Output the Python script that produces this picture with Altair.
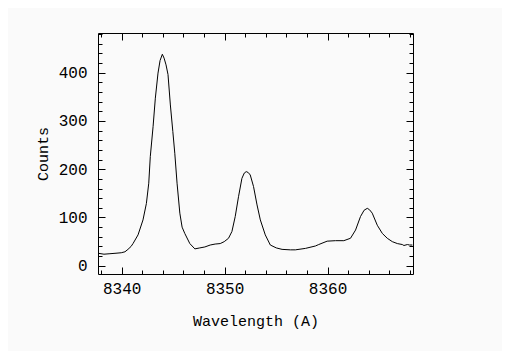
import altair as alt
import pandas as pd

wavelength = [8337.69, 8338.28, 8338.86, 8339.45, 8339.96, 8340.32, 8340.61, 8340.91,
              8341.10, 8341.59, 8342.07, 8342.40, 8342.63, 8342.78, 8343.05, 8343.27,
              8343.53, 8343.73, 8343.95, 8344.12, 8344.31, 8344.50, 8344.73, 8344.97,
              8345.16, 8345.38, 8345.65, 8345.87, 8346.13, 8346.62, 8347.11, 8347.59,
              8348.08, 8348.60, 8349.08, 8349.57, 8349.96, 8350.38, 8350.71, 8351.03,
              8351.35, 8351.68, 8351.91, 8352.10, 8352.30, 8352.49, 8352.81, 8353.15,
              8353.47, 8353.95, 8354.44, 8355.02, 8355.58, 8356.39, 8356.87, 8357.85,
              8358.82, 8359.14, 8359.96, 8360.77, 8361.58, 8362.23, 8362.72, 8363.20,
              8363.55, 8363.86, 8364.08, 8364.34, 8364.83, 8365.32, 8365.80, 8366.29,
              8366.78, 8367.26, 8367.42, 8367.75, 8367.97, 8368.24]
counts = [26, 24, 25, 26, 27, 29, 34, 40,
          46, 64, 95, 129, 171, 226, 288, 347,
          399, 425, 438, 430, 416, 396, 333, 278,
          233, 171, 109, 80, 67, 46, 35, 37,
          39, 43, 45, 46, 50, 57, 71, 102,
          143, 181, 192, 195, 193, 188, 164, 126,
          95, 64, 43, 37, 34, 33, 33, 36,
          41, 44, 51, 52, 52, 57, 74, 102,
          115, 119, 116, 109, 84, 67, 57, 50,
          46, 44, 42, 44, 43, 43]

x_major = [8340, 8350, 8360]
x_minor = list(range(8338, 8369, 2))
y_major = [0, 100, 200, 300, 400]
y_minor = list(range(0, 481, 20))

X_DOMAIN = [8337.7, 8368.3]
Y_DOMAIN = [-17, 482]

df = pd.DataFrame({"wavelength": wavelength, "counts": counts})

FONT = "Liberation Mono"


def make_layer(xaxis, yaxis, xtitle, ytitle, opacity):
    return alt.Chart(df).mark_line(color="black", strokeWidth=1, opacity=opacity, clip=True).encode(
        x=alt.X("wavelength:Q", title=xtitle,
                scale=alt.Scale(domain=X_DOMAIN, nice=False, zero=False), axis=xaxis),
        y=alt.Y("counts:Q", title=ytitle,
                scale=alt.Scale(domain=Y_DOMAIN, nice=False, zero=False), axis=yaxis),
    )


common = dict(domain=False, grid=False, tickColor="black", tickWidth=1)

x_bottom_major = alt.Axis(orient="bottom", values=x_major, tickSize=7, offset=-7,
                          labelPadding=6, labelFont=FONT, labelFontSize=16, labelColor="black",
                          titleFont=FONT, titleFontSize=15, titleFontWeight="normal",
                          titleColor="black", titlePadding=17, format="d", **common)
y_left_major = alt.Axis(orient="left", values=y_major, tickSize=7, offset=-7,
                        labelPadding=11, labelFont=FONT, labelFontSize=16, labelColor="black",
                        titleFont=FONT, titleFontSize=15, titleFontWeight="normal",
                        titleColor="black", titlePadding=8, format="d", **common)
x_bottom_minor = alt.Axis(orient="bottom", values=x_minor, tickSize=4, offset=-4,
                          labels=False, **common)
y_left_minor = alt.Axis(orient="left", values=y_minor, tickSize=4, offset=-4,
                        labels=False, **common)
x_top_major = alt.Axis(orient="top", values=x_major, tickSize=7, offset=-7,
                       labels=False, **common)
y_right_major = alt.Axis(orient="right", values=y_major, tickSize=7, offset=-7,
                         labels=False, **common)
x_top_minor = alt.Axis(orient="top", values=x_minor, tickSize=4, offset=-4,
                       labels=False, **common)
y_right_minor = alt.Axis(orient="right", values=y_minor, tickSize=4, offset=-4,
                         labels=False, **common)

chart = alt.layer(
    make_layer(x_bottom_major, y_left_major, "Wavelength (A)", "Counts", 1),
    make_layer(x_bottom_minor, y_left_minor, "", "", 0),
    make_layer(x_top_major, y_right_major, "", "", 0),
    make_layer(x_top_minor, y_right_minor, "", "", 0),
).resolve_axis(x="independent", y="independent").properties(
    width=315, height=241,
    autosize=alt.AutoSizeParams(type="none"),
    padding={"left": 90, "top": 25, "right": 89, "bottom": 77},
    background="#fafafa",
).configure_view(stroke="black", strokeWidth=1)

chart.save("out.html", embed_options={"renderer": "svg", "actions": False})
